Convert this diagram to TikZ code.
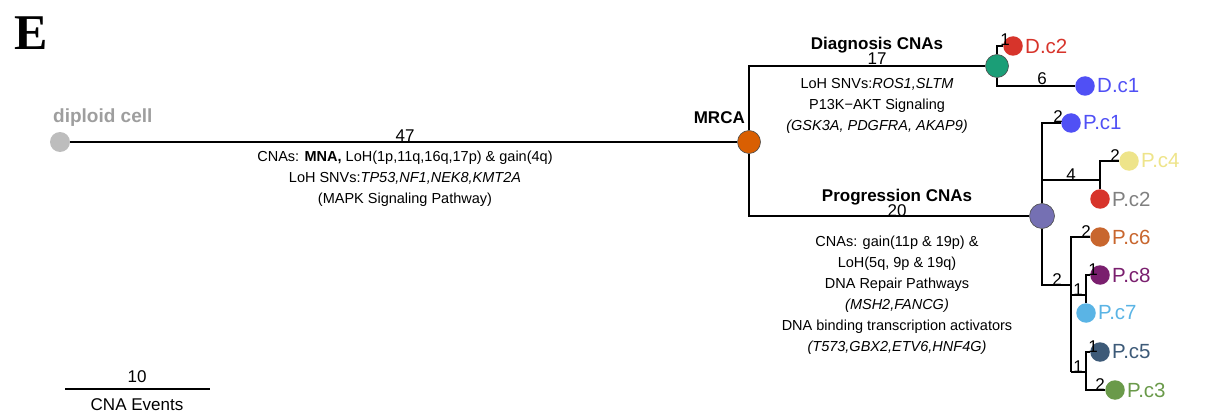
\documentclass[tikz,border=0pt]{standalone}
\usepackage{fontspec}
\setmainfont{Liberation Sans}
\newfontfamily\serifE{Liberation Serif}
\definecolor{dipgray}{HTML}{BDBDBD}
\definecolor{diptxt}{HTML}{9E9E9E}
\definecolor{mrcaor}{HTML}{D95F02}
\definecolor{diaggr}{HTML}{1B9E77}
\definecolor{progpu}{HTML}{7570B3}
\definecolor{cred}{HTML}{D7342B}
\definecolor{cblue}{HTML}{5050F5}
\definecolor{cyel}{HTML}{EEE48A}
\definecolor{cgraytxt}{HTML}{808080}
\definecolor{csienna}{HTML}{C8662E}
\definecolor{cplum}{HTML}{7A1F6E}
\definecolor{csky}{HTML}{5AB4E5}
\definecolor{cslate}{HTML}{3D5A78}
\definecolor{cgreen}{HTML}{6A9A4A}
\begin{document}
\begin{tikzpicture}[x=1pt,y=-1pt,
  br/.style={line width=2pt, black},
  brthin/.style={line width=1.2pt, black},
  dot/.style={circle, inner sep=0pt, minimum size=20pt},
  inode/.style={dot, draw=black!70, line width=0.6pt, minimum size=23pt},
  leaf/.style={dot, minimum size=19.5pt},
  lbl/.style={font=\fontsize{20.5}{22}\selectfont, anchor=west, inner sep=0pt},
  num/.style={font=\fontsize{17}{17}\selectfont, inner sep=0pt, anchor=base},
  txt/.style={font=\fontsize{14.5}{21}\selectfont, align=center, inner sep=0pt},
  bl/.style={font=\bfseries\fontsize{17}{19}\selectfont, inner sep=0pt}
]
\useasboundingbox (0,0) rectangle (1214,417);

\node[font=\serifE\bfseries\fontsize{50}{50}\selectfont, anchor=north west, inner sep=0pt] (E) at (14,17) {E};

% main nodes
\node[dot, fill=dipgray] (dip) at (60,142) {};
\node[inode, fill=mrcaor] (mrca) at (749,142) {};
\node[inode, fill=diaggr] (diag) at (997,66) {};
\node[inode, fill=progpu, minimum size=25pt] (prog) at (1042,216) {};
\coordinate (mt) at (749,66);
\coordinate (mb) at (749,216);
\draw[br] (dip) -- (mrca);
\draw[br] (mrca) -- (mt) -- (diag);
\draw[br] (mrca) -- (mb) -- (prog);

\node[font=\bfseries\fontsize{19}{21}\selectfont, inner sep=0pt, text=diptxt, anchor=base west] (diplbl) at (53,122) {diploid cell};
\node[bl, anchor=base east] (mrcalbl) at (745,124) {MRCA};

% trunk labels
\node[num] (n47) at (405,141) {47};
\node[txt, anchor=north] (t47) at (405,151) {CNAs: \textbf{MNA,} LoH(1p,11q,16q,17p) \& gain(4q)\\
LoH SNVs:\textit{TP53,NF1,NEK8,KMT2A}\\
(MAPK Signaling Pathway)};

% diagnosis
\node[bl, anchor=base] (diaglbl) at (877,50) {Diagnosis CNAs};
\node[num] (n17) at (877,65) {17};
\node[txt, anchor=north] (tdiag) at (877,78) {LoH SNVs:\textit{ROS1,SLTM}\\
P13K\textminus AKT Signaling\\
\textit{(GSK3A, PDGFRA, AKAP9)}};

% progression
\node[bl, anchor=base] (proglbl) at (897,201) {Progression CNAs};
\node[num] (n20) at (897,216) {20};
\node[txt, anchor=north] (tprog) at (897,236) {CNAs: gain(11p \& 19p) \&\\
LoH(5q, 9p \& 19q)\\
DNA Repair Pathways\\
\textit{(MSH2,FANCG)}\\
DNA binding transcription activators\\
\textit{(T573,GBX2,ETV6,HNF4G)}};

% diagnosis leaves
\node[leaf, fill=cred] (dc2) at (1013,46) {};
\node[leaf, fill=cblue] (dc1) at (1085,86) {};
\coordinate (d1) at (997,46);
\coordinate (d2) at (997,86);
\draw[br] (diag) -- (d1) -- (dc2);
\draw[br] (diag) -- (d2) -- (dc1);
\node[lbl, text=cred] at (1025,46) {D.c2};
\node[lbl, text=cblue] at (1097,86) {D.c1};
\node[num] at (1005,46) {1};
\node[num] at (1042,85) {6};

% progression leaves
\node[leaf, fill=cblue] (pc1) at (1071,123) {};
\node[leaf, fill=cyel] (pc4) at (1129,161) {};
\node[leaf, fill=cred] (pc2) at (1100,199) {};
\node[leaf, fill=csienna] (pc6) at (1100,237) {};
\node[leaf, fill=cplum] (pc8) at (1100,275) {};
\node[leaf, fill=csky] (pc7) at (1086,313) {};
\node[leaf, fill=cslate] (pc5) at (1100,352) {};
\node[leaf, fill=cgreen] (pc3) at (1115,390) {};

\coordinate (p1) at (1042,123);
\draw[br] (prog) -- (p1) -- (pc1);
\coordinate (q0) at (1042,180);
\coordinate (q1) at (1100,180);
\coordinate (q2) at (1100,161);
\draw[brthin] (q0) -- (q1);
\draw[br] (pc2) -- (q2) -- (pc4);

\coordinate (r0) at (1042,285);
\coordinate (r1) at (1071,285);
\coordinate (s1) at (1071,237);
\coordinate (s2) at (1071,372);
\draw[br] (prog) -- (r0) -- (r1);
\draw[br] (pc6) -- (s1) -- (s2);
\coordinate (t0) at (1071,295);
\coordinate (t1) at (1086,295);
\coordinate (t2) at (1086,275);
\draw[br] (t0) -- (t1);
\draw[br] (pc8) -- (t2) -- (pc7);
\coordinate (u1) at (1086,372);
\coordinate (u2) at (1086,352);
\coordinate (u3) at (1086,390);
\draw[br] (s2) -- (u1);
\draw[br] (pc5) -- (u2) -- (u3) -- (pc3);

\node[lbl, text=cblue] at (1083,123) {P.c1};
\node[lbl, text=cyel] at (1141,161) {P.c4};
\node[lbl, text=cgraytxt] at (1112,199) {P.c2};
\node[lbl, text=csienna] at (1112,237) {P.c6};
\node[lbl, text=cplum] at (1112,275) {P.c8};
\node[lbl, text=csky] at (1098,313) {P.c7};
\node[lbl, text=cslate] at (1112,352) {P.c5};
\node[lbl, text=cgreen] at (1127,390) {P.c3};

\node[num] at (1058,123) {2};
\node[num] at (1071,180) {4};
\node[num] at (1115,161) {2};
\node[num] at (1086,237) {2};
\node[num] at (1057,285) {2};
\node[num] at (1078,295) {1};
\node[num] at (1093,275) {1};
\node[num] at (1078,372) {1};
\node[num] at (1093,352) {1};
\node[num] at (1100,390) {2};

% scale bar
\coordinate (sb1) at (65,389);
\coordinate (sb2) at (210,389);
\draw[line width=1.5pt] (sb1) -- (sb2);
\node[num] (s10) at (137,382) {10};
\node[font=\fontsize{17}{19}\selectfont, inner sep=0pt, anchor=base] (sbl) at (137,410) {CNA Events};
\end{tikzpicture}
\end{document}
